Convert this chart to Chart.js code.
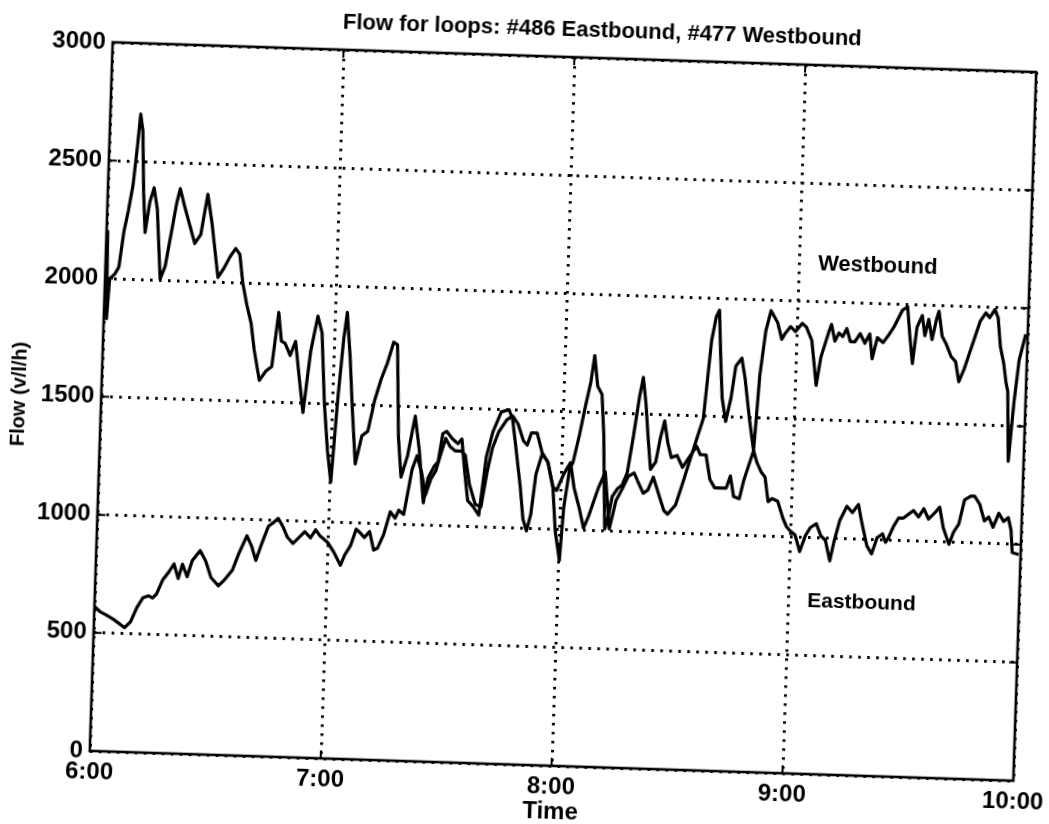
<!DOCTYPE html>
<html>
<head>
<meta charset="utf-8">
<title>Flow for loops</title>
<script src="https://cdn.jsdelivr.net/npm/chart.js@4.4.0/dist/chart.umd.min.js"></script>
<style>
  body { margin: 0; background: #fff; overflow: hidden; }
  /* the scanned original sits slightly crooked on the page */
  #grafico { display: block; transform: rotate(1.85deg); transform-origin: 563px 411px; }
</style>
</head>
<body>
<canvas id="grafico" width="1100" height="824"></canvas>
<script>
// time in minutes after 6:00, flow in v/l/h
const westTime = [0, 0.3, 0.7, 1.2, 2.5, 3.5, 4.5, 5.5, 6.5, 7.3,
  7.9, 8.6, 9.3, 10, 11, 12, 13, 14.3, 15.5, 16.8,
  18, 18.8, 20, 21.3, 23, 24.5, 26, 27.3, 29.3, 30.8,
  32.3, 33.7, 34.8, 35.8, 37, 38.3, 39.3, 40.9, 42.5, 44,
  45.4, 46.3, 47.3, 48.7, 50, 51.3, 52.5, 54, 55.6, 56.8,
  58, 59.2, 60.3, 61.5, 62.5, 63.2, 64.3, 65.3, 66.5, 68,
  69.5, 71, 72.5, 74, 75.5, 76.5, 77.5, 78.5, 80, 81.7,
  83, 84.5, 85.5, 87, 88, 89, 90, 91.5, 93, 94,
  95, 96, 97.5, 99, 100.5, 102, 104, 106, 107, 108,
  109.5, 110.5, 111.5, 112.5, 113.5, 115, 116.5, 118, 119, 120.7,
  122.4, 123.5, 125, 126.3, 127.5, 129.8, 131.5, 133, 134.5, 136,
  137.5, 139, 140, 141.5, 142.7, 144, 145.5, 147, 148, 150,
  151.7, 153.5, 155, 156.5, 158, 159, 159.8, 160.5, 161.2, 162.3,
  163.5, 164.5, 166, 167, 168.5, 169.8, 170.8, 172, 173.2, 175,
  176.2, 177, 178.4, 179.7, 181.4, 182.5, 184, 184.8, 185.5, 186.5,
  188.3, 189, 190, 191, 192, 193, 194, 195.2, 196.5, 197.8,
  199, 199.8, 201, 202.5, 204, 205.3, 207.3, 208.6, 209.4, 210.3,
  211.2, 212.5, 213.3, 214.2, 215.2, 216.2, 216.8, 217.8, 219, 220.3,
  221.5, 222.5, 223.8, 225, 226.3, 227.6, 229, 230, 231.3, 232.2,
  233, 234, 234.8, 235.3, 236, 237, 238, 239.5];
const westFlow = [2000, 2200, 1830, 2000, 2020, 2050, 2200, 2290, 2400, 2560,
  2700, 2630, 2370, 2200, 2330, 2390, 2300, 2005, 2060, 2200,
  2330, 2390, 2320, 2250, 2160, 2200, 2370, 2250, 2020, 2060,
  2110, 2145, 2120, 2000, 1910, 1830, 1720, 1590, 1630, 1650,
  1880, 1760, 1750, 1700, 1760, 1600, 1460, 1720, 1870, 1800,
  1500, 1300, 1170, 1540, 1780, 1890, 1700, 1480, 1250, 1370,
  1390, 1520, 1610, 1680, 1770, 1760, 1370, 1200, 1290, 1460,
  1320, 1095, 1200, 1250, 1270, 1390, 1400, 1370, 1350, 1370,
  1230, 1110, 1085, 1050, 1300, 1405, 1490, 1500, 1460, 1350,
  1180, 1040, 990, 1060, 1230, 1320, 1285, 1180, 1165, 1235,
  1285, 1180, 1095, 1010, 1060, 1180, 1250, 1010, 1130, 1180,
  1235, 1250, 1215, 1165, 1180, 1235, 1165, 1095, 1080, 1120,
  1215, 1320, 1405, 1490, 1820, 1920, 1950, 1750, 1580, 1480,
  1580, 1715, 1750, 1665, 1490, 1360, 1680, 1870, 1955, 1905,
  1835, 1860, 1890, 1870, 1905, 1890, 1835, 1735, 1645, 1765,
  1870, 1905, 1835, 1870, 1855, 1890, 1835, 1835, 1870, 1830,
  1870, 1765, 1855, 1835, 1870, 1905, 1975, 1990, 1870, 1750,
  1905, 1955, 1870, 1940, 1855, 1940, 1975, 1870, 1835, 1785,
  1765, 1680, 1735, 1800, 1870, 1940, 1975, 1955, 1990, 1955,
  1835, 1765, 1680, 1645, 1350, 1600, 1780, 1890];

const eastTime = [0, 1.5, 3, 5, 6.5, 8, 9.5, 11, 12.5, 14,
  15, 16, 17.5, 19, 20.3, 21.5, 22.5, 23.8, 25, 27,
  28.5, 30, 32, 33.5, 35.5, 37, 39, 40.3, 41.5, 43,
  44.5, 45.8, 47, 48.3, 49.5, 51, 52.5, 54, 55.5, 56.8,
  58, 60, 61.8, 63.5, 64.5, 66, 67.3, 68.5, 69.5, 70.8,
  72, 73, 74.5, 76, 77.3, 78.2, 79.5, 80.5, 81.3, 82.5,
  83.8, 85, 86.3, 87.5, 88.6, 89.8, 91, 92.3, 94, 95,
  96.3, 98, 99.5, 100.8, 102, 103.5, 105.5, 107, 108.5, 110,
  111, 112, 113.5, 115, 116.5, 118, 119, 120.3, 121, 122.3,
  123, 124.5, 125.8, 127, 127.8, 128.8, 130, 130.8, 131.3, 131.8,
  132.6, 133.5, 134.8, 136, 137.2, 138.5, 139.8, 140.6, 141.5, 142.3,
  143.2, 144.5, 145.5, 146.5, 147.5, 148.5, 150, 151.5, 153, 155,
  156, 157.5, 158.7, 160, 161.5, 163, 164, 165, 166.5, 167.5,
  169.8, 170.8, 172, 173, 174, 175, 176.5, 178, 179, 180,
  181.3, 182.6, 184, 185.2, 186.7, 188, 189.2, 190.5, 191.5, 192.8,
  194.5, 196, 197.5, 198.4, 200, 201.3, 202.6, 204, 204.8, 205.5,
  206.8, 208, 209.2, 210.5, 211.8, 213.2, 214.5, 215.8, 216.8, 217.7,
  218.6, 219.7, 221.3, 222.4, 223.7, 225, 226.6, 227.6, 229, 230.3,
  231.4, 232.6, 234, 235.3, 236.5, 237.3, 237.8, 239.5];
const eastFlow = [612, 590, 578, 560, 543, 526, 552, 612, 655, 664,
  655, 672, 733, 767, 802, 741, 802, 750, 819, 862,
  819, 750, 716, 741, 784, 853, 931, 888, 828, 905,
  974, 991, 1009, 974, 931, 905, 931, 957, 931, 966,
  940, 914, 871, 819, 862, 905, 974, 957, 940, 966,
  888, 897, 957, 1052, 1026, 1060, 1043, 1147, 1233, 1293,
  1224, 1129, 1198, 1233, 1302, 1370, 1336, 1319, 1319, 1302,
  1181, 1095, 1086, 1233, 1336, 1405, 1457, 1474, 1440, 1370,
  1353, 1405, 1405, 1319, 1284, 1181, 991, 870, 1095, 1267,
  1284, 1405, 1526, 1629, 1741, 1612, 1577, 1405, 1198, 1009,
  1060, 1147, 1181, 1198, 1250, 1405, 1577, 1655, 1543, 1405,
  1267, 1300, 1400, 1474, 1380, 1320, 1330, 1280, 1320, 1371,
  1336, 1336, 1233, 1198, 1198, 1198, 1250, 1164, 1155, 1233,
  1360, 1310, 1270, 1250, 1147, 1160, 1150, 1078, 1043, 1026,
  1009, 940, 1009, 1043, 1060, 1009, 991, 905, 991, 1078,
  1138, 1112, 1147, 1078, 974, 940, 1009, 1026, 991, 1009,
  1060, 1095, 1095, 1112, 1129, 1103, 1138, 1095, 1112, 1129,
  1147, 1060, 991, 1043, 1078, 1181, 1198, 1198, 1164, 1095,
  1112, 1069, 1129, 1095, 1112, 1060, 965, 957];

const timeLabels = ["6:00", "7:00", "8:00", "9:00", "10:00"];
const flowLabels = ["0", "500", "1000", "1500", "2000", "2500", "3000"];

const titleText = "Flow for loops: #486 Eastbound, #477 Westbound";
const fontFamily = '"Liberation Sans", Arial, Helvetica, sans-serif';

function toPoints(times, flows) {
  return times.map((t, i) => ({ x: t, y: flows[i] }));
}

// solid box, inner tick marks, title and the two line names
const frameAndText = {
  id: "frameAndText",
  afterDatasetsDraw(chart) {
    const { ctx, chartArea: a, scales: { x, y } } = chart;
    ctx.save();
    ctx.strokeStyle = "#000";
    ctx.lineWidth = 2.6;
    ctx.strokeRect(a.left, a.top, a.right - a.left, a.bottom - a.top);

    ctx.lineWidth = 2;
    ctx.beginPath();
    y.ticks.forEach(t => {
      const py = y.getPixelForValue(t.value);
      ctx.moveTo(a.left, py); ctx.lineTo(a.left + 8, py);
      ctx.moveTo(a.right, py); ctx.lineTo(a.right - 8, py);
    });
    x.ticks.forEach(t => {
      const px = x.getPixelForValue(t.value);
      ctx.moveTo(px, a.bottom); ctx.lineTo(px, a.bottom - 8);
      ctx.moveTo(px, a.top); ctx.lineTo(px, a.top + 8);
    });
    ctx.stroke();

    ctx.fillStyle = "#000";
    ctx.textBaseline = "middle";
    ctx.textAlign = "center";
    ctx.font = "bold 22px " + fontFamily;
    ctx.fillText(titleText, 590, 30);

    ctx.textAlign = "left";
    ctx.font = "bold 22px " + fontFamily;
    ctx.fillText("Westbound", x.getPixelForValue(185), y.getPixelForValue(2160));
    ctx.font = "bold 21px " + fontFamily;
    ctx.fillText("Eastbound", x.getPixelForValue(185), y.getPixelForValue(730));
    ctx.restore();
  }
};

const ctx = document.getElementById("grafico").getContext("2d");

const chart = new Chart(ctx, {
  type: "line",
  data: {
    datasets: [
      {
        label: "Westbound",
        data: toPoints(westTime, westFlow),
        borderColor: "#000",
        borderWidth: 3.2,
        pointRadius: 0,
        tension: 0,
        borderJoinStyle: "round"
      },
      {
        label: "Eastbound",
        data: toPoints(eastTime, eastFlow),
        borderColor: "#000",
        borderWidth: 3.2,
        pointRadius: 0,
        tension: 0,
        borderJoinStyle: "round"
      }
    ]
  },
  options: {
    responsive: false,
    animation: false,
    layout: { padding: { top: 57, right: 75, bottom: 0, left: 0 } },
    plugins: {
      legend: { display: false },
      tooltip: { enabled: false },
      title: { display: false }
    },
    scales: {
      x: {
        type: "linear",
        min: 0,
        max: 240,
        ticks: {
          stepSize: 60,
          color: "#000",
          padding: 7,
          maxRotation: 0,
          autoSkip: false,
          font: { family: fontFamily, size: 24, weight: "bold" },
          callback: (v, i) => timeLabels[i]
        },
        grid: { color: "#000", lineWidth: 3, drawTicks: false },
        border: { display: false, dash: [2.6, 6.4] },
        title: {
          display: true,
          text: "Time",
          color: "#000",
          padding: 0,
          font: { family: fontFamily, size: 24, weight: "bold", lineHeight: 1 }
        },
        afterFit: s => { s.height = 58; s.paddingLeft = 0; s.paddingRight = 0; }
      },
      y: {
        min: 0,
        max: 3000,
        ticks: {
          stepSize: 500,
          color: "#000",
          padding: 7,
          font: { family: fontFamily, size: 24, weight: "bold" },
          callback: (v, i) => flowLabels[i]
        },
        grid: { color: "#000", lineWidth: 3, drawTicks: false },
        border: { display: false, dash: [2.6, 6.4] },
        title: {
          display: true,
          text: "Flow (v/l/h)",
          color: "#000",
          padding: { top: 7, bottom: 0 },
          font: { family: fontFamily, size: 20, weight: "bold" }
        },
        afterFit: s => { s.width = 101; s.paddingTop = 0; s.paddingBottom = 0; }
      }
    }
  },
  plugins: [frameAndText]
});
</script>
</body>
</html>
